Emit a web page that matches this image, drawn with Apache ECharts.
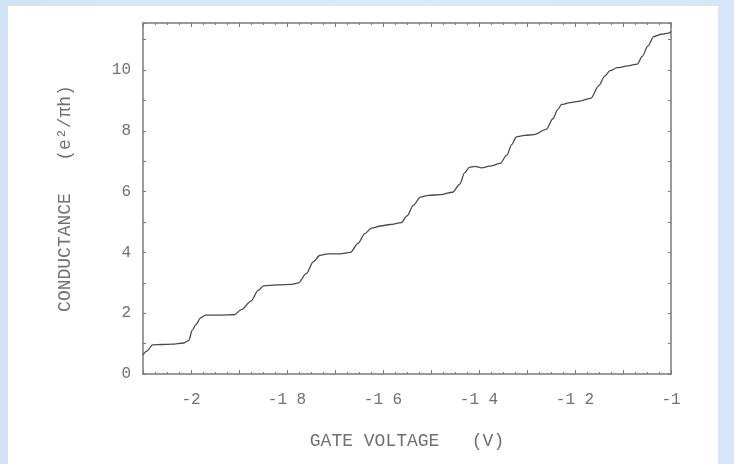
<!DOCTYPE html>
<html>
<head>
<meta charset="utf-8">
<script src="https://cdn.jsdelivr.net/npm/echarts@6/dist/echarts.min.js"></script>
<style>
  html, body { margin: 0; padding: 0; width: 734px; height: 464px; overflow: hidden; }
  body { background: linear-gradient(90deg, #d3e3f6 0%, #dce9f8 50%, #d6e6f8 100%); position: relative; }
  .paper { position: absolute; left: 8px; top: 6px; width: 710px; height: 458px; background: #fff; }
  #chart { position: absolute; left: 0; top: 0; width: 734px; height: 464px; }
</style>
</head>
<body>
<div class="paper"></div>
<div id="chart"></div>
<script>
// gate voltage (V) and conductance (e^2/pi h)
var gateVoltage = [
  -2.100, -2.092, -2.080, -2.060, -2.040, -2.015, -2.005, -1.997, -1.990, -1.980,
  -1.970, -1.940, -1.910, -1.895, -1.875, -1.860, -1.849, -1.820, -1.790, -1.776,
  -1.760, -1.745, -1.732, -1.715, -1.690, -1.668, -1.652, -1.638, -1.624, -1.605,
  -1.585, -1.562, -1.550, -1.537, -1.522, -1.505, -1.480, -1.455, -1.440, -1.430,
  -1.420, -1.408, -1.395, -1.375, -1.356, -1.342, -1.332, -1.322, -1.305, -1.285,
  -1.260, -1.246, -1.236, -1.228, -1.210, -1.190, -1.167, -1.150, -1.138, -1.127,
  -1.112, -1.090, -1.070, -1.060, -1.048, -1.036, -1.020, -1.005, -1.000
]
var conductance = [
  0.63, 0.75, 0.96, 0.97, 0.98, 1.02, 1.10, 1.45, 1.62, 1.85,
  1.94, 1.94, 1.95, 2.12, 2.40, 2.75, 2.90, 2.93, 2.95, 3.00,
  3.30, 3.70, 3.90, 3.95, 3.95, 4.00, 4.30, 4.62, 4.80, 4.87,
  4.92, 4.98, 5.20, 5.55, 5.82, 5.88, 5.90, 5.98, 6.25, 6.62,
  6.80, 6.83, 6.78, 6.85, 6.93, 7.20, 7.55, 7.80, 7.85, 7.88,
  8.05, 8.40, 8.70, 8.87, 8.93, 8.98, 9.07, 9.50, 9.80, 9.98,
  10.08, 10.14, 10.20, 10.45, 10.80, 11.10, 11.18, 11.22, 11.27
]
var xLabels = [-2, -1.8, -1.6, -1.4, -1.2, -1]
var yLabels = [0, 2, 4, 6, 8, 10]

var pts = []
for (var i = 0; i < gateVoltage.length; i++) {
  pts.push([gateVoltage[i], conductance[i]])
}

var font = "'Liberation Mono', 'DejaVu Sans Mono', monospace"
var axisColor = '#7a7a7a'
var textColor = '#707070'

function xFmt (v) {
  for (var k = 0; k < xLabels.length; k++) {
    if (Math.abs(v - xLabels[k]) < 1e-6) return String(xLabels[k]).replace('.', ' ')
  }
  return ''
}
function yFmt (v) {
  for (var k = 0; k < yLabels.length; k++) {
    if (Math.abs(v - yLabels[k]) < 1e-6) return String(yLabels[k])
  }
  return ''
}

var xBase = {
  type: 'value',
  min: -2.1,
  max: -1,
  interval: 0.1,
  axisLine: { show: true, onZero: false, lineStyle: { color: axisColor, width: 1.5 } },
  axisTick: { show: true, inside: true, length: 4, lineStyle: { color: axisColor } },
  minorTick: { show: true, splitNumber: 4, length: 2, lineStyle: { color: axisColor } },
  splitLine: { show: false }
}
var yBase = {
  type: 'value',
  min: 0,
  max: 11.55,
  interval: 1,
  axisLine: { show: true, onZero: false, lineStyle: { color: axisColor, width: 1.5 } },
  axisTick: { show: true, inside: true, length: 3, lineStyle: { color: axisColor } },
  splitLine: { show: false }
}

var chart = echarts.init(document.getElementById('chart'), null, { renderer: 'canvas' })
chart.setOption({
  animation: false,
  backgroundColor: 'transparent',
  grid: { left: 143, right: 63, top: 23, bottom: 90 },
  xAxis: [
    Object.assign({}, xBase, {
      position: 'bottom',
      name: 'GATE VOLTAGE   (V)',
      nameLocation: 'middle',
      nameGap: 58,
      nameTextStyle: { color: textColor, fontFamily: font, fontSize: 18 },
      axisLabel: { show: true, margin: 18, color: textColor, fontFamily: font, fontSize: 16, formatter: xFmt }
    }),
    Object.assign({}, xBase, {
      position: 'top',
      axisLabel: { show: false }
    })
  ],
  yAxis: [
    Object.assign({}, yBase, {
      position: 'left',
      name: 'CONDUCTANCE   (e\u00b2/\u03c0h)',
      nameLocation: 'middle',
      nameGap: 69,
      nameRotate: 90,
      nameTextStyle: { color: textColor, fontFamily: font, fontSize: 18 },
      axisLabel: { show: true, margin: 12, color: textColor, fontFamily: font, fontSize: 16, formatter: yFmt }
    }),
    Object.assign({}, yBase, {
      position: 'right',
      axisLabel: { show: false }
    })
  ],
  series: [{
    type: 'line',
    data: pts,
    showSymbol: false,
    smooth: 0.3,
    smoothMonotone: 'x',
    lineStyle: { color: '#4a4a4a', width: 1.3 }
  }]
})
</script>
</body>
</html>
